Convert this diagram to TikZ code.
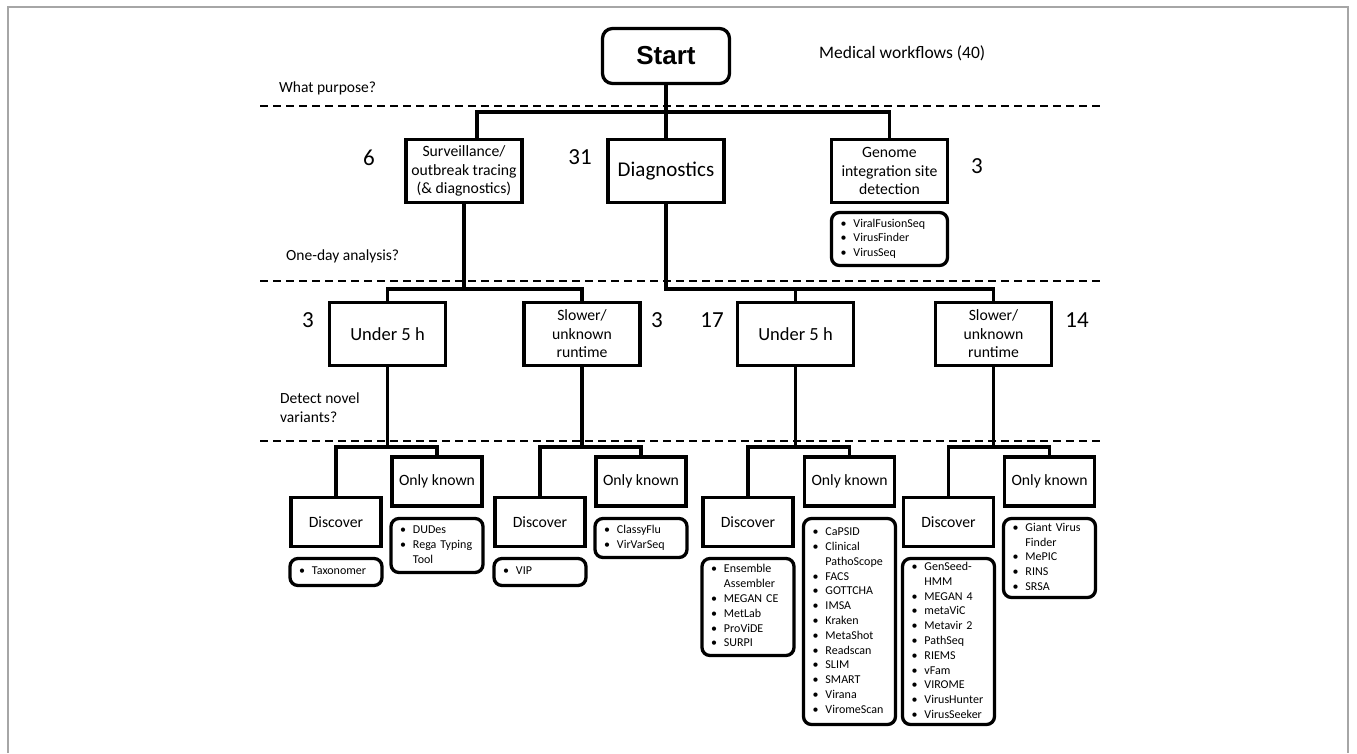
\documentclass[tikz,border=0pt]{standalone}
\usepackage{fontspec}
\setmainfont{Carlito}
\newfontfamily\headfont{Liberation Sans}
\usetikzlibrary{positioning}

\newcommand{\toolbox}[1]{\begin{tabular}{@{\hspace{3pt}}l@{\hspace{7pt}}l@{}}#1\end{tabular}}
\newcommand{\tool}[1]{\textbullet & #1\\}
\newcommand{\more}[1]{& #1\\}

\tikzset{
  stepbox/.style={draw, line width=3.3pt, align=center, inner sep=0pt, font=\fontsize{15.7}{18.5}\selectfont},
  topbox/.style={stepbox, minimum width=116pt, minimum height=63pt},
  leafbox/.style={stepbox, minimum width=90pt, minimum height=49pt},
  listbox/.style={draw, line width=3.3pt, rounded corners=8pt, inner xsep=6pt, inner ysep=0pt, text width=80pt, font=\fontsize{12}{14.8}\selectfont},
  conn/.style={line width=3.5pt},
  divider/.style={dashed, dash pattern=on 8pt off 5pt, line width=1.8pt},
  numlabel/.style={inner sep=0pt, font=\fontsize{23}{27}\selectfont},
  question/.style={anchor=west, align=left, inner sep=0pt, font=\fontsize{15.5}{19}\selectfont},
}

\begin{document}
\begin{tikzpicture}[x=1pt, y=-1pt]
\useasboundingbox (0,0) rectangle (1357,753);
\draw[gray!70, line width=1.2pt] (8,753) -- (8,7) -- (1348,7) -- (1348,753);

% question dividers
\draw[divider] (260,106) -- (1103,106);
\draw[divider] (260,281) -- (1103,281);
\draw[divider] (260,441) -- (1103,441);

\node[question] (qpurpose) at (279,88) {What purpose?};
\node[question] (qday) at (286,256) {One-day analysis?};
\node[question] (qnovel) at (280,407.5) {Detect novel\\variants?};
\node[anchor=west, inner sep=0pt, font=\fontsize{17.5}{21}\selectfont] (title) at (819,53) {Medical workflows (40)};

% level 0 and 1
\node[stepbox, rounded corners=10pt, minimum width=127pt, minimum height=55pt, font=\headfont\bfseries\fontsize{26}{30}\selectfont] (start) at (666,56) {Start};
\node[topbox] (surv) at (464,171) {Surveillance/\\outbreak tracing\\(\& diagnostics)};
\node[topbox, font=\fontsize{21}{25}\selectfont] (diag) at (666,171) {Diagnostics};
\node[topbox] (genome) at (889.5,171) {Genome\\integration site\\detection};
\node[listbox, text width=104pt, minimum height=53pt] (genomelist) at (889.5,239) {\toolbox{\tool{ViralFusionSeq}\tool{VirusFinder}\tool{VirusSeq}}};

\node[numlabel] (n6) at (369,158) {6};
\node[numlabel] (n31) at (580,157) {31};
\node[numlabel] (n3g) at (977,166) {3};

% level 2
\node[topbox, font=\fontsize{18.5}{22}\selectfont] (fastA) at (387.5,334) {Under 5 h};
\node[topbox] (slowA) at (582,334) {Slower/\\unknown\\runtime};
\node[topbox, font=\fontsize{18.5}{22}\selectfont] (fastB) at (795.5,334) {Under 5 h};
\node[topbox] (slowB) at (993.5,334) {Slower/\\unknown\\runtime};

\node[numlabel] (n3a) at (308,320) {3};
\node[numlabel] (n3b) at (657,320) {3};
\node[numlabel] (n17) at (712,320) {17};
\node[numlabel] (n14) at (1077,320) {14};

% level 3
\node[leafbox] (discA) at (336,522) {Discover};
\node[leafbox] (knownA) at (437,481.5) {Only known};
\node[leafbox] (discB) at (540,522) {Discover};
\node[leafbox] (knownB) at (641,481.5) {Only known};
\node[leafbox] (discC) at (748,522) {Discover};
\node[leafbox] (knownC) at (849.5,481.5) {Only known};
\node[leafbox] (discD) at (948.5,522) {Discover};
\node[leafbox] (knownD) at (1049.5,481.5) {Only known};

% tool lists
\node[listbox, minimum height=27pt] (taxlist) at (336,572) {\toolbox{\tool{Taxonomer}}};
\node[listbox, minimum height=54pt] (dudeslist) at (437,545.5) {\toolbox{\tool{DUDes}\tool{Rega Typing}\more{Tool}}};
\node[listbox, minimum height=27pt] (viplist) at (540,572) {\toolbox{\tool{VIP}}};
\node[listbox, minimum height=39pt] (classylist) at (641,538) {\toolbox{\tool{ClassyFlu}\tool{VirVarSeq}}};
\node[listbox, minimum height=97pt] (enslist) at (748,607) {\toolbox{\tool{Ensemble}\more{Assembler}\tool{MEGAN CE}\tool{MetLab}\tool{ProViDE}\tool{SURPI}}};
\node[listbox, minimum height=206pt] (capsidlist) at (849.5,621.5) {\toolbox{\tool{CaPSID}\tool{Clinical}\more{PathoScope}\tool{FACS}\tool{GOTTCHA}\tool{IMSA}\tool{Kraken}\tool{MetaShot}\tool{Readscan}\tool{SLIM}\tool{SMART}\tool{Virana}\tool{ViromeScan}}};
\node[listbox, minimum height=166pt] (genseedlist) at (948.5,641.5) {\toolbox{\tool{GenSeed-}\more{HMM}\tool{MEGAN 4}\tool{metaViC}\tool{Metavir 2}\tool{PathSeq}\tool{RIEMS}\tool{vFam}\tool{VIROME}\tool{VirusHunter}\tool{VirusSeeker}}};
\node[listbox, minimum height=79pt] (giantlist) at (1049.5,558) {\toolbox{\tool{Giant Virus}\more{Finder}\tool{MePIC}\tool{RINS}\tool{SRSA}}};

% junctions
\coordinate (bar1) at (666,112);
\coordinate (j1) at (464,289);
\coordinate (j2) at (666,289);
\coordinate (j3) at (387.5,447);
\coordinate (j4) at (582,447);
\coordinate (j5) at (795.5,447);
\coordinate (j6) at (993.5,447);

% connectors
\draw[conn] (start) -- (diag);
\draw[conn] ([xshift=13pt]surv.north) |- (bar1) -| (genome.north);
\draw[conn] (surv.south) -- (j1);
\draw[conn] (fastA.north) |- (j1) -| (slowA.north);
\draw[conn] (diag.south) -- (j2) -| (slowB.north);
\draw[conn] (j2) -| (fastB.north);
\draw[conn] (fastA.south) -- (j3);
\draw[conn] (discA.north) |- (j3) -| (knownA.north);
\draw[conn] (slowA.south) -- (j4);
\draw[conn] (discB.north) |- (j4) -| (knownB.north);
\draw[conn] (fastB.south) -- (j5);
\draw[conn] (discC.north) |- (j5) -| (knownC.north);
\draw[conn] (slowB.south) -- (j6);
\draw[conn] (discD.north) |- (j6) -| (knownD.north);
\end{tikzpicture}
\end{document}
